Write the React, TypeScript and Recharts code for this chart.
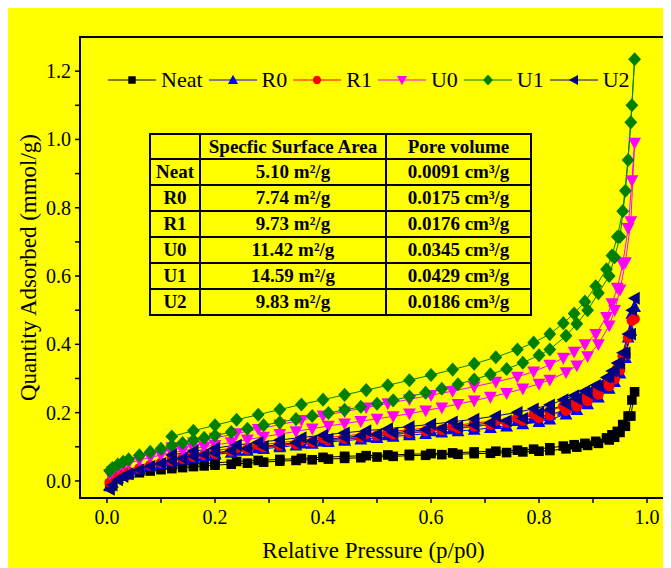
import { LineChart, Line, XAxis, YAxis, ReferenceArea } from "recharts";

const FONT = "'Liberation Serif', 'Times New Roman', serif";

// relative pressures of the adsorption branch (shared by all samples)
const adsP = [
  0.005, 0.01, 0.02, 0.03, 0.04, 0.06, 0.08, 0.1, 0.12, 0.14, 0.16, 0.18, 0.2, 0.23, 0.26,
  0.29, 0.32, 0.35, 0.38, 0.41, 0.44, 0.47, 0.5, 0.53, 0.56, 0.59, 0.62, 0.65, 0.68, 0.71,
  0.74, 0.77, 0.8, 0.82, 0.85, 0.87, 0.89, 0.91, 0.93, 0.94, 0.95, 0.96, 0.97, 0.977,
];
// relative pressures of the desorption branch
const desP = [
  0.972, 0.965, 0.955, 0.945, 0.935, 0.925, 0.905, 0.885, 0.865, 0.845, 0.82, 0.79, 0.76, 0.72, 0.68,
  0.64, 0.6, 0.56, 0.52, 0.48, 0.44, 0.4, 0.36, 0.32, 0.28, 0.24, 0.2, 0.16, 0.12,
];

const neatAds = [
  -0.01, 0.0, 0.008, 0.014, 0.018, 0.024, 0.029, 0.033, 0.036, 0.039, 0.042, 0.044, 0.046, 0.049, 0.052,
  0.055, 0.058, 0.06, 0.062, 0.064, 0.066, 0.068, 0.07, 0.072, 0.074, 0.075, 0.077, 0.078, 0.08, 0.081,
  0.083, 0.085, 0.087, 0.089, 0.094, 0.099, 0.104, 0.11, 0.12, 0.128, 0.142, 0.16, 0.19, 0.261,
];
const neatDes = [
  0.237, 0.19, 0.165, 0.145, 0.135, 0.126, 0.116, 0.11, 0.106, 0.102, 0.097, 0.093, 0.09, 0.087, 0.085,
  0.082, 0.08, 0.078, 0.076, 0.074, 0.072, 0.069, 0.066, 0.063, 0.06, 0.057, 0.053, 0.049, 0.044,
];
const r0Ads = [
  -0.015, -0.005, 0.008, 0.017, 0.024, 0.034, 0.043, 0.05, 0.057, 0.063, 0.068, 0.073, 0.077, 0.083, 0.089,
  0.094, 0.099, 0.104, 0.109, 0.114, 0.118, 0.122, 0.126, 0.13, 0.134, 0.138, 0.142, 0.146, 0.15, 0.155,
  0.16, 0.166, 0.173, 0.18, 0.195, 0.208, 0.225, 0.245, 0.27, 0.29, 0.315, 0.36, 0.44, 0.51,
];
const r0Des = [
  0.49, 0.42, 0.36, 0.32, 0.295, 0.275, 0.25, 0.232, 0.218, 0.206, 0.194, 0.184, 0.176, 0.167, 0.159,
  0.152, 0.146, 0.14, 0.134, 0.128, 0.122, 0.116, 0.11, 0.103, 0.096, 0.089, 0.081, 0.073, 0.063,
];
const r1Ads = [
  -0.005, 0.003, 0.013, 0.021, 0.027, 0.037, 0.046, 0.053, 0.06, 0.066, 0.071, 0.076, 0.08, 0.087, 0.093,
  0.099, 0.104, 0.109, 0.114, 0.119, 0.124, 0.128, 0.133, 0.137, 0.141, 0.146, 0.15, 0.155, 0.16, 0.165,
  0.171, 0.177, 0.185, 0.192, 0.206, 0.218, 0.234, 0.253, 0.278, 0.298, 0.325, 0.37, 0.43, 0.475,
];
const r1Des = [
  0.47, 0.42, 0.365, 0.33, 0.305, 0.287, 0.262, 0.245, 0.231, 0.219, 0.205, 0.195, 0.186, 0.177, 0.169,
  0.162, 0.156, 0.15, 0.144, 0.138, 0.132, 0.126, 0.119, 0.112, 0.105, 0.097, 0.089, 0.08, 0.07,
];
const u0Ads = [
  0.02, 0.028, 0.038, 0.046, 0.052, 0.061, 0.069, 0.076, 0.082, 0.088, 0.094, 0.1, 0.105, 0.113, 0.121,
  0.129, 0.137, 0.145, 0.153, 0.161, 0.168, 0.175, 0.182, 0.189, 0.197, 0.206, 0.215, 0.225, 0.235, 0.246,
  0.257, 0.27, 0.284, 0.296, 0.318, 0.338, 0.365, 0.4, 0.455, 0.5, 0.56, 0.64, 0.76, 0.99,
];
const u0Des = [
  0.88, 0.74, 0.635, 0.565, 0.52, 0.48, 0.43, 0.4, 0.378, 0.36, 0.34, 0.32, 0.305, 0.29, 0.276,
  0.263, 0.251, 0.239, 0.227, 0.215, 0.203, 0.191, 0.178, 0.165, 0.152, 0.139, 0.126, 0.112, 0.098,
];
const u1Ads = [
  0.03, 0.038, 0.048, 0.056, 0.063, 0.075, 0.085, 0.094, 0.103, 0.111, 0.119, 0.126, 0.133, 0.143, 0.153,
  0.163, 0.172, 0.181, 0.19, 0.199, 0.208, 0.217, 0.226, 0.236, 0.247, 0.258, 0.27, 0.283, 0.297, 0.312,
  0.328, 0.346, 0.368, 0.385, 0.425, 0.46, 0.5, 0.55, 0.6, 0.655, 0.715, 0.85, 1.05, 1.235,
];
const u1Des = [
  1.1, 0.94, 0.79, 0.715, 0.66, 0.62, 0.57, 0.525, 0.49, 0.462, 0.43, 0.405, 0.385, 0.362, 0.343,
  0.326, 0.31, 0.295, 0.28, 0.266, 0.252, 0.238, 0.224, 0.209, 0.194, 0.179, 0.163, 0.147, 0.13,
];
const u2Ads = [
  -0.025, -0.012, 0.003, 0.013, 0.021, 0.033, 0.043, 0.051, 0.059, 0.066, 0.072, 0.077, 0.082, 0.089, 0.095,
  0.101, 0.107, 0.112, 0.117, 0.122, 0.127, 0.132, 0.136, 0.141, 0.145, 0.15, 0.154, 0.159, 0.164, 0.17,
  0.176, 0.183, 0.2, 0.208, 0.225, 0.24, 0.258, 0.278, 0.305, 0.322, 0.345, 0.375, 0.43, 0.535,
];
const u2Des = [
  0.5, 0.43, 0.375, 0.345, 0.322, 0.303, 0.28, 0.263, 0.25, 0.238, 0.223, 0.211, 0.201, 0.19, 0.181,
  0.173, 0.166, 0.159, 0.153, 0.147, 0.141, 0.134, 0.127, 0.12, 0.113, 0.105, 0.096, 0.087, 0.076,
];

const xTicks = [0, 0.1, 0.2, 0.3, 0.4, 0.5, 0.6, 0.7, 0.8, 0.9, 1.0];
const yTicks = [0, 0.1, 0.2, 0.3, 0.4, 0.5, 0.6, 0.7, 0.8, 0.9, 1.0, 1.1, 1.2];

const tableHead = ["", "Specfic Surface Area", "Pore volume"];
const tableRows = [
  ["Neat", "5.10 m²/g", "0.0091 cm³/g"],
  ["R0", "7.74 m²/g", "0.0175 cm³/g"],
  ["R1", "9.73 m²/g", "0.0176 cm³/g"],
  ["U0", "11.42 m²/g", "0.0345 cm³/g"],
  ["U1", "14.59 m²/g", "0.0429 cm³/g"],
  ["U2", "9.83 m²/g", "0.0186 cm³/g"],
];

type Shape = "square" | "up" | "circle" | "down" | "diamond" | "left";

const series: { name: string; color: string; shape: Shape; ads: number[]; des: number[] }[] = [
  { name: "Neat", color: "#000000", shape: "square", ads: neatAds, des: neatDes },
  { name: "R0", color: "#0000ff", shape: "up", ads: r0Ads, des: r0Des },
  { name: "R1", color: "#ff0000", shape: "circle", ads: r1Ads, des: r1Des },
  { name: "U0", color: "#ff00ff", shape: "down", ads: u0Ads, des: u0Des },
  { name: "U1", color: "#008000", shape: "diamond", ads: u1Ads, des: u1Des },
  { name: "U2", color: "#000080", shape: "left", ads: u2Ads, des: u2Des },
];

function Marker({ cx, cy, shape, color, s = 1 }: { cx: number; cy: number; shape: Shape; color: string; s?: number }) {
  const a = 6.4 * s;
  switch (shape) {
    case "square":
      return <rect x={cx - 4.8 * s} y={cy - 4.8 * s} width={9.6 * s} height={9.6 * s} fill={color} />;
    case "circle":
      return <circle cx={cx} cy={cy} r={5.3 * s} fill={color} />;
    case "up":
      return <polygon points={`${cx},${cy - a * 1.05} ${cx - a},${cy + a * 0.8} ${cx + a},${cy + a * 0.8}`} fill={color} />;
    case "down":
      return <polygon points={`${cx},${cy + a * 1.05} ${cx - a},${cy - a * 0.8} ${cx + a},${cy - a * 0.8}`} fill={color} />;
    case "left":
      return <polygon points={`${cx - a * 1.05},${cy} ${cx + a * 0.8},${cy - a} ${cx + a * 0.8},${cy + a}`} fill={color} />;
    case "diamond":
      return <polygon points={`${cx},${cy - a * 1.1} ${cx + a},${cy} ${cx},${cy + a * 1.1} ${cx - a},${cy}`} fill={color} />;
  }
  return null;
}

function XTick({ x, y, payload }: any) {
  const v = payload.value;
  if (Math.round(v * 10) % 2 !== 0) return null;
  return (
    <text x={x} y={y + 19} textAnchor="middle" fontSize={20} fontFamily={FONT} fill="#000">
      {v.toFixed(1)}
    </text>
  );
}

function YTick({ x, y, payload }: any) {
  const v = payload.value;
  if (Math.round(v * 10) % 2 !== 0) return null;
  return (
    <text x={x - 2} y={y + 7} textAnchor="end" fontSize={20} fontFamily={FONT} fill="#000">
      {v.toFixed(1)}
    </text>
  );
}

const cell: React.CSSProperties = {
  border: "2px solid #000",
  padding: 0,
  textAlign: "center",
  fontWeight: "bold",
  fontSize: 19,
  lineHeight: "22px",
};

export default function App() {
  return (
    <div style={{ position: "relative", width: 663, height: 560, background: "#ffff00", fontFamily: FONT }}>
      <LineChart width={663} height={560} margin={{ top: 29, right: 4, left: 0, bottom: 0 }}>
        <XAxis
          type="number"
          dataKey="p"
          domain={[-0.05, 1.037]}
          allowDataOverflow
          ticks={xTicks}
          tick={<XTick />}
          tickSize={5}
          height={70}
          axisLine={{ stroke: "#000", strokeWidth: 2 }}
          tickLine={{ stroke: "#000", strokeWidth: 1.5 }}
          label={{ value: "Relative Pressure (p/p0)", position: "insideBottom", offset: 10, fontSize: 23, fill: "#000", fontFamily: FONT }}
        />
        <YAxis
          type="number"
          domain={[-0.05, 1.3]}
          allowDataOverflow
          ticks={yTicks}
          tick={<YTick />}
          tickSize={5}
          width={72}
          axisLine={{ stroke: "#000", strokeWidth: 2 }}
          tickLine={{ stroke: "#000", strokeWidth: 1.5 }}
          label={{ value: "Quantity Adsorbed (mmol/g)", angle: -90, position: "insideLeft", offset: 20, fontSize: 23, fill: "#000", fontFamily: FONT, style: { textAnchor: "middle" } }}
        />
        <ReferenceArea x1={-0.05} x2={1.037} y1={-0.05} y2={1.3} fill="none" stroke="#000" strokeWidth={2} />
        {series.map((s) => (
          <Line
            key={s.name}
            data={[...adsP.map((p, i) => ({ p, q: s.ads[i] })), ...desP.map((p, i) => ({ p, q: s.des[i] }))]}
            dataKey="q"
            stroke={s.color}
            strokeWidth={1}
            isAnimationActive={false}
            dot={(props: any) => <Marker key={props.index} cx={props.cx} cy={props.cy} shape={s.shape} color={s.color} />}
            activeDot={false}
          />
        ))}
      </LineChart>

      {/* legend */}
      <div style={{ position: "absolute", left: 100, top: 59, display: "flex", alignItems: "center", fontSize: 22, color: "#000" }}>
        {series.map((s) => (
          <div key={s.name} style={{ display: "flex", alignItems: "center", marginRight: 6 }}>
            <svg width={48} height={22}>
              <line x1={0} y1={11} x2={48} y2={11} stroke={s.color} strokeWidth={1.2} />
              <Marker cx={24} cy={11} shape={s.shape} color={s.color} s={0.78} />
            </svg>
            <span style={{ marginLeft: 5 }}>{s.name}</span>
          </div>
        ))}
      </div>

      {/* table */}
      <table
        style={{
          position: "absolute",
          left: 141,
          top: 125,
          width: 383,
          borderCollapse: "collapse",
          fontFamily: FONT,
          color: "#000",
        }}
      >
        <tbody>
          <tr style={{ height: 25 }}>
            {tableHead.map((h, i) => (
              <td key={i} style={{ ...cell, width: i === 0 ? 48 : i === 1 ? 184 : undefined }}>{h}</td>
            ))}
          </tr>
          {tableRows.map((r) => (
            <tr key={r[0]} style={{ height: 26 }}>
              {r.map((c, i) => (
                <td key={i} style={cell}>{c}</td>
              ))}
            </tr>
          ))}
        </tbody>
      </table>
    </div>
  );
}
